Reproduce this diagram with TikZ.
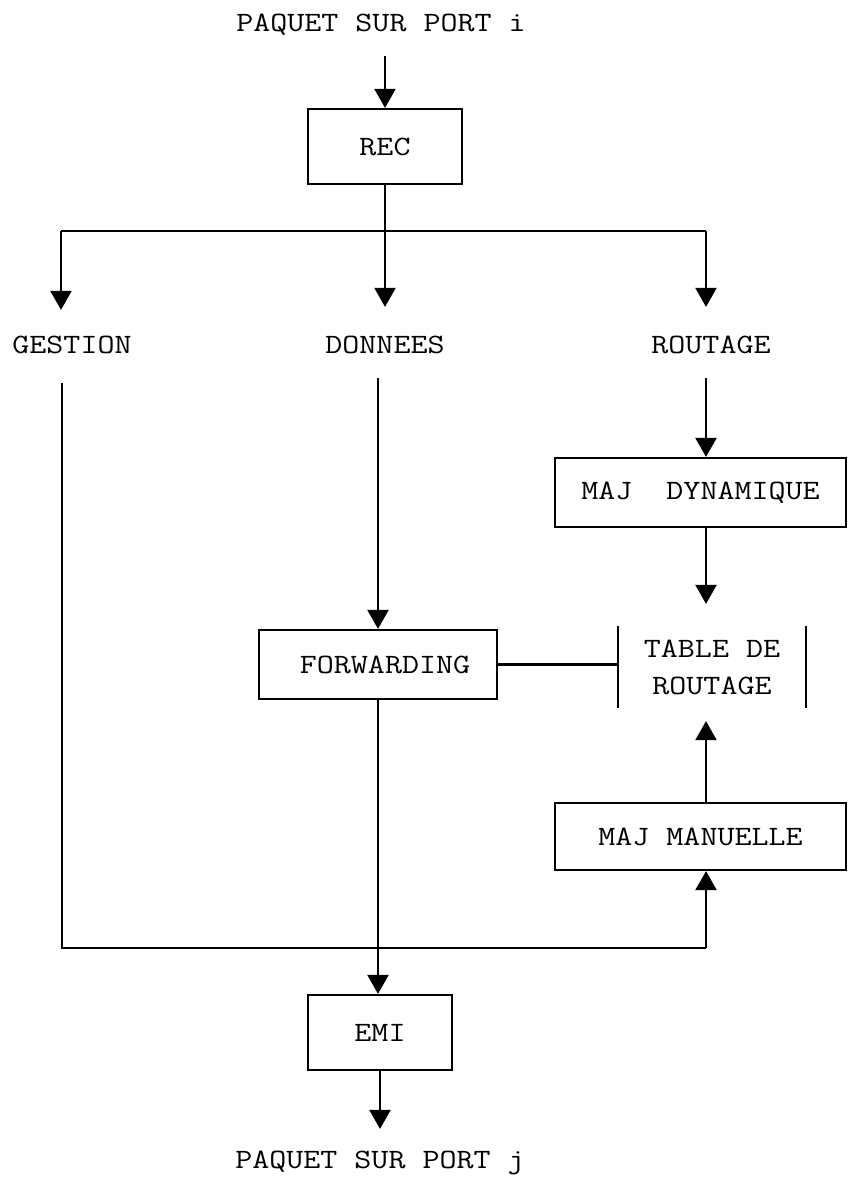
\documentclass[tikz,border=0pt]{standalone}
\usepackage{fontspec}
\newfontfamily\boxfont[FakeStretch=1.18]{Latin Modern Mono}
\usetikzlibrary{arrows.meta}

\begin{document}
\begin{tikzpicture}[x=1pt,y=-1pt,line width=2.2pt,
  txt/.style={font=\boxfont\fontsize{28}{37}\selectfont,inner sep=0pt,
              text height=17pt,text depth=0pt},
  box/.style={draw,font=\boxfont\fontsize{28}{37}\selectfont,inner sep=0pt},
  arr/.style={-{Triangle[width=21pt,length=19pt]}}]

% canvas
\fill[white] (0,0) rectangle (848,1178);
\useasboundingbox (0,0) rectangle (848,1178);

% text labels
\node[txt] (in)   at (381,23)   {PAQUET SUR PORT i};
\node[txt] (out)  at (380,1160) {PAQUET SUR PORT j};
\node[txt] (gest) at (72,345)   {GESTION};
\node[txt] (donn) at (385,345)  {DONNEES};
\node[txt] (rout) at (711,345)  {ROUTAGE};

% boxes
\node[box,minimum width=154pt,minimum height=75pt] (rec)  at (385,146.5)  {REC};
\node[box,minimum width=238pt,minimum height=69pt] (fwd)  at (378,664.5)  {\hspace*{14pt}FORWARDING};
\node[box,minimum width=144pt,minimum height=75pt] (emi)  at (380,1032.5) {EMI};
\node[box,minimum width=291pt,minimum height=69pt] (majd) at (700.5,492.5) {MAJ\ \ DYNAMIQUE};
\node[box,minimum width=291pt,minimum height=67pt] (majm) at (700.5,836.5) {MAJ MANUELLE};

% routing table (open sides)
\node[font=\boxfont\fontsize{28}{37}\selectfont,align=center,inner sep=0pt,
      minimum width=186pt,minimum height=80pt] (tab) at (712,667) {TABLE DE\\ROUTAGE};
\draw (tab.north west) -- (tab.south west);
\draw (tab.north east) -- (tab.south east);

% helper points
\coordinate (colr) at (706,0);
\coordinate (bl) at (61,231);
\coordinate (br) at (706,231);
\coordinate (gl) at (62,948);
\coordinate (corner) at (706,948);

% input
\draw[arr,shorten <=23.5pt] (rec.north |- in.south) -- (rec.north);

% dispatch
\draw (bl) -- (br);
\draw[arr,shorten >=28.5pt] (rec.south) -- (rec.south |- donn.north);
\draw[arr,shorten >=25.5pt] (bl) -- (bl |- gest.north);
\draw[arr,shorten >=28.5pt] (br) -- (br |- rout.north);

% data path
\draw[arr,shorten <=23.5pt] (fwd.north |- donn.south) -- (fwd.north);
\draw (fwd.east) -- (fwd.east -| tab.west);
\draw[arr] (fwd.south) -- (fwd.south |- emi.north);
\draw[arr,shorten >=21.5pt] (emi.south) -- (out.north);

% routing updates
\draw[arr,shorten <=23.5pt] (colr |- rout.south) -- (colr |- majd.north);
\draw[arr,shorten >=22pt] (colr |- majd.south) -- (colr |- tab.north);
\draw[arr,shorten >=13pt] (colr |- majm.north) -- (colr |- tab.south);

% management path
\draw[shorten <=28.5pt] (gl |- gest.south) -- (gl) -- (corner);
\draw[arr] (corner) -- (colr |- majm.south);
\end{tikzpicture}
\end{document}
